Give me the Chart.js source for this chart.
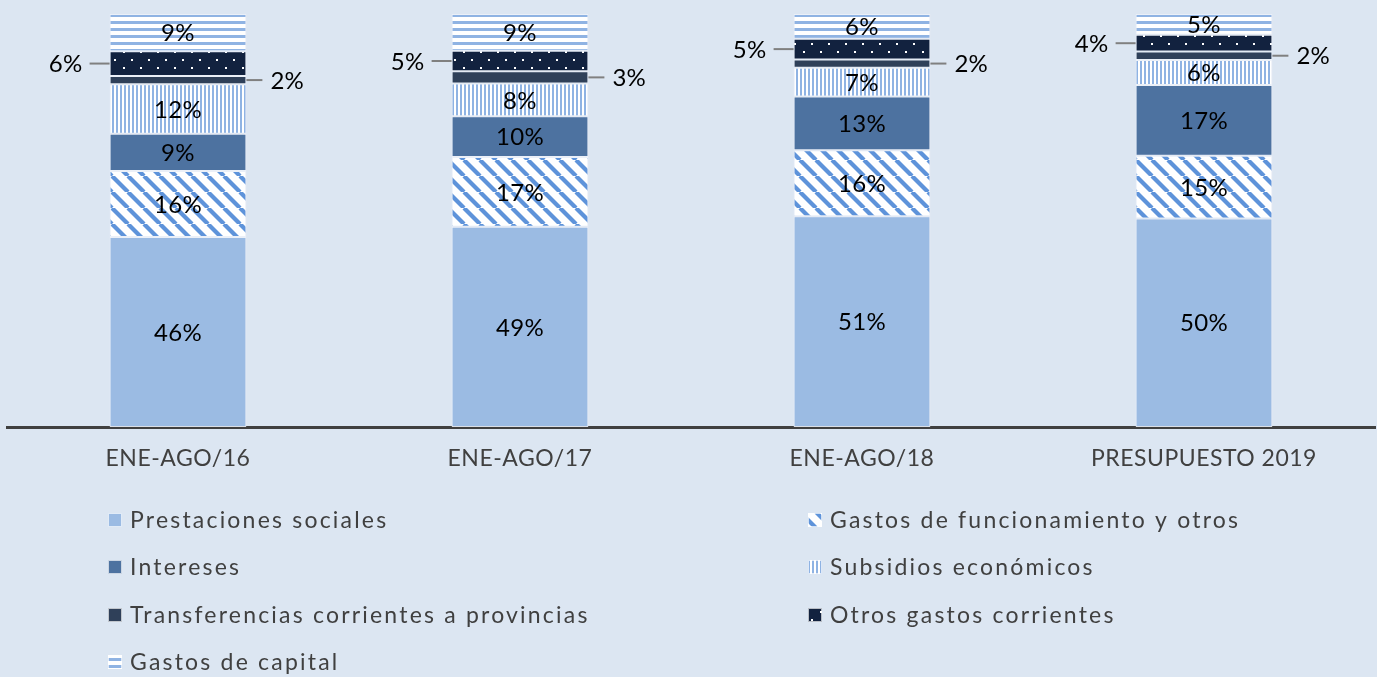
<!DOCTYPE html>
<html><head><meta charset="utf-8">
<script src="https://cdn.jsdelivr.net/npm/chart.js@4"></script>
<style>html,body{margin:0;padding:0;background:#DCE6F2;overflow:hidden}</style>
</head><body>
<canvas id="c" width="1377" height="677" style="display:block;width:1377px;height:677px"></canvas>
<script>
const categories = ['ENE-AGO/16', 'ENE-AGO/17', 'ENE-AGO/18', 'PRESUPUESTO 2019'];
const seriesNames = ['Prestaciones sociales', 'Gastos de funcionamiento y otros', 'Intereses', 'Subsidios económicos', 'Transferencias corrientes a provincias', 'Otros gastos corrientes', 'Gastos de capital'];
const prestaciones = [46, 49, 51, 50];
const funcionamiento = [16, 17, 16, 15];
const intereses = [9, 10, 13, 17];
const subsidios = [12, 8, 7, 6];
const transferencias = [2, 3, 2, 2];
const otros = [6, 5, 5, 4];
const capital = [9, 9, 6, 5];

const seriesValues = [prestaciones, funcionamiento, intereses, subsidios, transferencias, otros, capital];
const totals = categories.map((_, j) => seriesValues.reduce((s, arr) => s + arr[j], 0));

function pat(w, h, draw) {
  const c = document.createElement('canvas'); c.width = w; c.height = h;
  const x = c.getContext('2d'); draw(x, w, h);
  return document.createElement('canvas').getContext('2d').createPattern(c, 'repeat');
}
const diag = pat(16, 16, (x, w, h) => {
  x.fillStyle = '#ffffff'; x.fillRect(0, 0, w, h);
  x.strokeStyle = '#5E93DA'; x.lineWidth = 4.2;
  for (let k = -1; k <= 1; k++) { x.beginPath(); x.moveTo(k * w, 0); x.lineTo(k * w + w, h); x.stroke(); }
});
const vert = pat(4, 4, (x, w, h) => {
  x.fillStyle = '#ffffff'; x.fillRect(0, 0, w, h);
  x.fillStyle = '#8FB3E3'; x.fillRect(0, 0, 2, h);
});
const horiz = pat(4, 7, (x, w, h) => {
  x.fillStyle = '#ffffff'; x.fillRect(0, 0, w, h);
  x.fillStyle = '#8FB3E3'; x.fillRect(0, 0, w, 3);
});
const dots = pat(17, 16, (x, w, h) => {
  x.fillStyle = '#12223F'; x.fillRect(0, 0, w, h);
  x.fillStyle = '#ffffff';
  x.fillRect(4, 3, 2, 2); x.fillRect(12, 11, 2, 2);
});
const fills = ['#9BBBE3', diag, '#4D72A0', vert, '#2F4059', dots, horiz];

const datasets = seriesValues.map((arr, i) => ({
  label: seriesNames[i],
  data: arr.map((v, j) => v / totals[j] * 100),
  raw: arr,
  backgroundColor: fills[i],
  borderColor: 'rgba(236,241,248,0.9)',
  borderWidth: 1,
  borderSkipped: false,
  categoryPercentage: 1,
  barPercentage: 0.4
}));

const FONT = 'Lato, "Open Sans", sans-serif';

const spacingPlugin = {
  id: 'spacing',
  beforeDraw(chart) { chart.ctx.letterSpacing = '0.5px'; }
};

const labelPlugin = {
  id: 'labels',
  afterDatasetsDraw(chart) {
    const ctx = chart.ctx;
    ctx.save();
    ctx.font = '24px ' + FONT;
    ctx.letterSpacing = '0.3px';
    ctx.textBaseline = 'middle';
    chart.data.datasets.forEach((ds, i) => {
      const meta = chart.getDatasetMeta(i);
      meta.data.forEach((el, j) => {
        const txt = ds.raw[j] + '%';
        const cy = (el.y + el.base) / 2;
        const half = el.width / 2;
        ctx.fillStyle = '#000000';
        if (i === 4) {
          ctx.strokeStyle = '#808080'; ctx.lineWidth = 2;
          ctx.beginPath(); ctx.moveTo(el.x + half, cy); ctx.lineTo(el.x + half + 16, cy); ctx.stroke();
          ctx.textAlign = 'left';
          ctx.fillText(txt, el.x + half + 24, cy + 1);
        } else if (i === 5) {
          ctx.strokeStyle = '#808080'; ctx.lineWidth = 2;
          ctx.beginPath(); ctx.moveTo(el.x - half - 20, cy); ctx.lineTo(el.x - half, cy); ctx.stroke();
          ctx.textAlign = 'right';
          ctx.fillText(txt, el.x - half - 27, cy + 1);
        } else {
          ctx.textAlign = 'center';
          ctx.fillText(txt, el.x, cy + 1);
        }
      });
    });
    ctx.restore();
  }
};

const legendPlugin = {
  id: 'gridLegend',
  afterDraw(chart) {
    const ctx = chart.ctx;
    const colsX = [108, 808];
    const rowsY = [520, 567, 615, 662];
    ctx.save();
    ctx.font = '23px ' + FONT;
    ctx.letterSpacing = '2.2px';
    ctx.textBaseline = 'middle';
    ctx.textAlign = 'left';
    chart.data.datasets.forEach((ds, i) => {
      const x = colsX[i % 2], y = rowsY[Math.floor(i / 2)];
      ctx.fillStyle = ds.backgroundColor;
      ctx.fillRect(x, y - 7, 14, 14);
      ctx.strokeStyle = 'rgba(255,255,255,0.7)'; ctx.lineWidth = 1;
      ctx.strokeRect(x + 0.5, y - 6.5, 13, 13);
      ctx.fillStyle = '#404040';
      ctx.fillText(ds.label, x + 22, y + 1);
    });
    ctx.restore();
  }
};

new Chart(document.getElementById('c'), {
  type: 'bar',
  data: { labels: categories, datasets },
  options: {
    responsive: false,
    animation: false,
    devicePixelRatio: 1,
    layout: { padding: { left: 7, right: 2, top: 14, bottom: 0 } },
    plugins: { legend: { display: false }, tooltip: { enabled: false } },
    scales: {
      x: {
        stacked: true,
        grid: { display: false, drawTicks: false },
        border: { display: true, color: '#404040', width: 3 },
        ticks: { color: '#404040', font: { family: FONT, size: 23 }, padding: 18 },
        afterFit(s) { s.height = 250; }
      },
      y: { stacked: true, display: false, min: 0, max: 100 }
    }
  },
  plugins: [spacingPlugin, labelPlugin, legendPlugin]
});
</script>
</body></html>
